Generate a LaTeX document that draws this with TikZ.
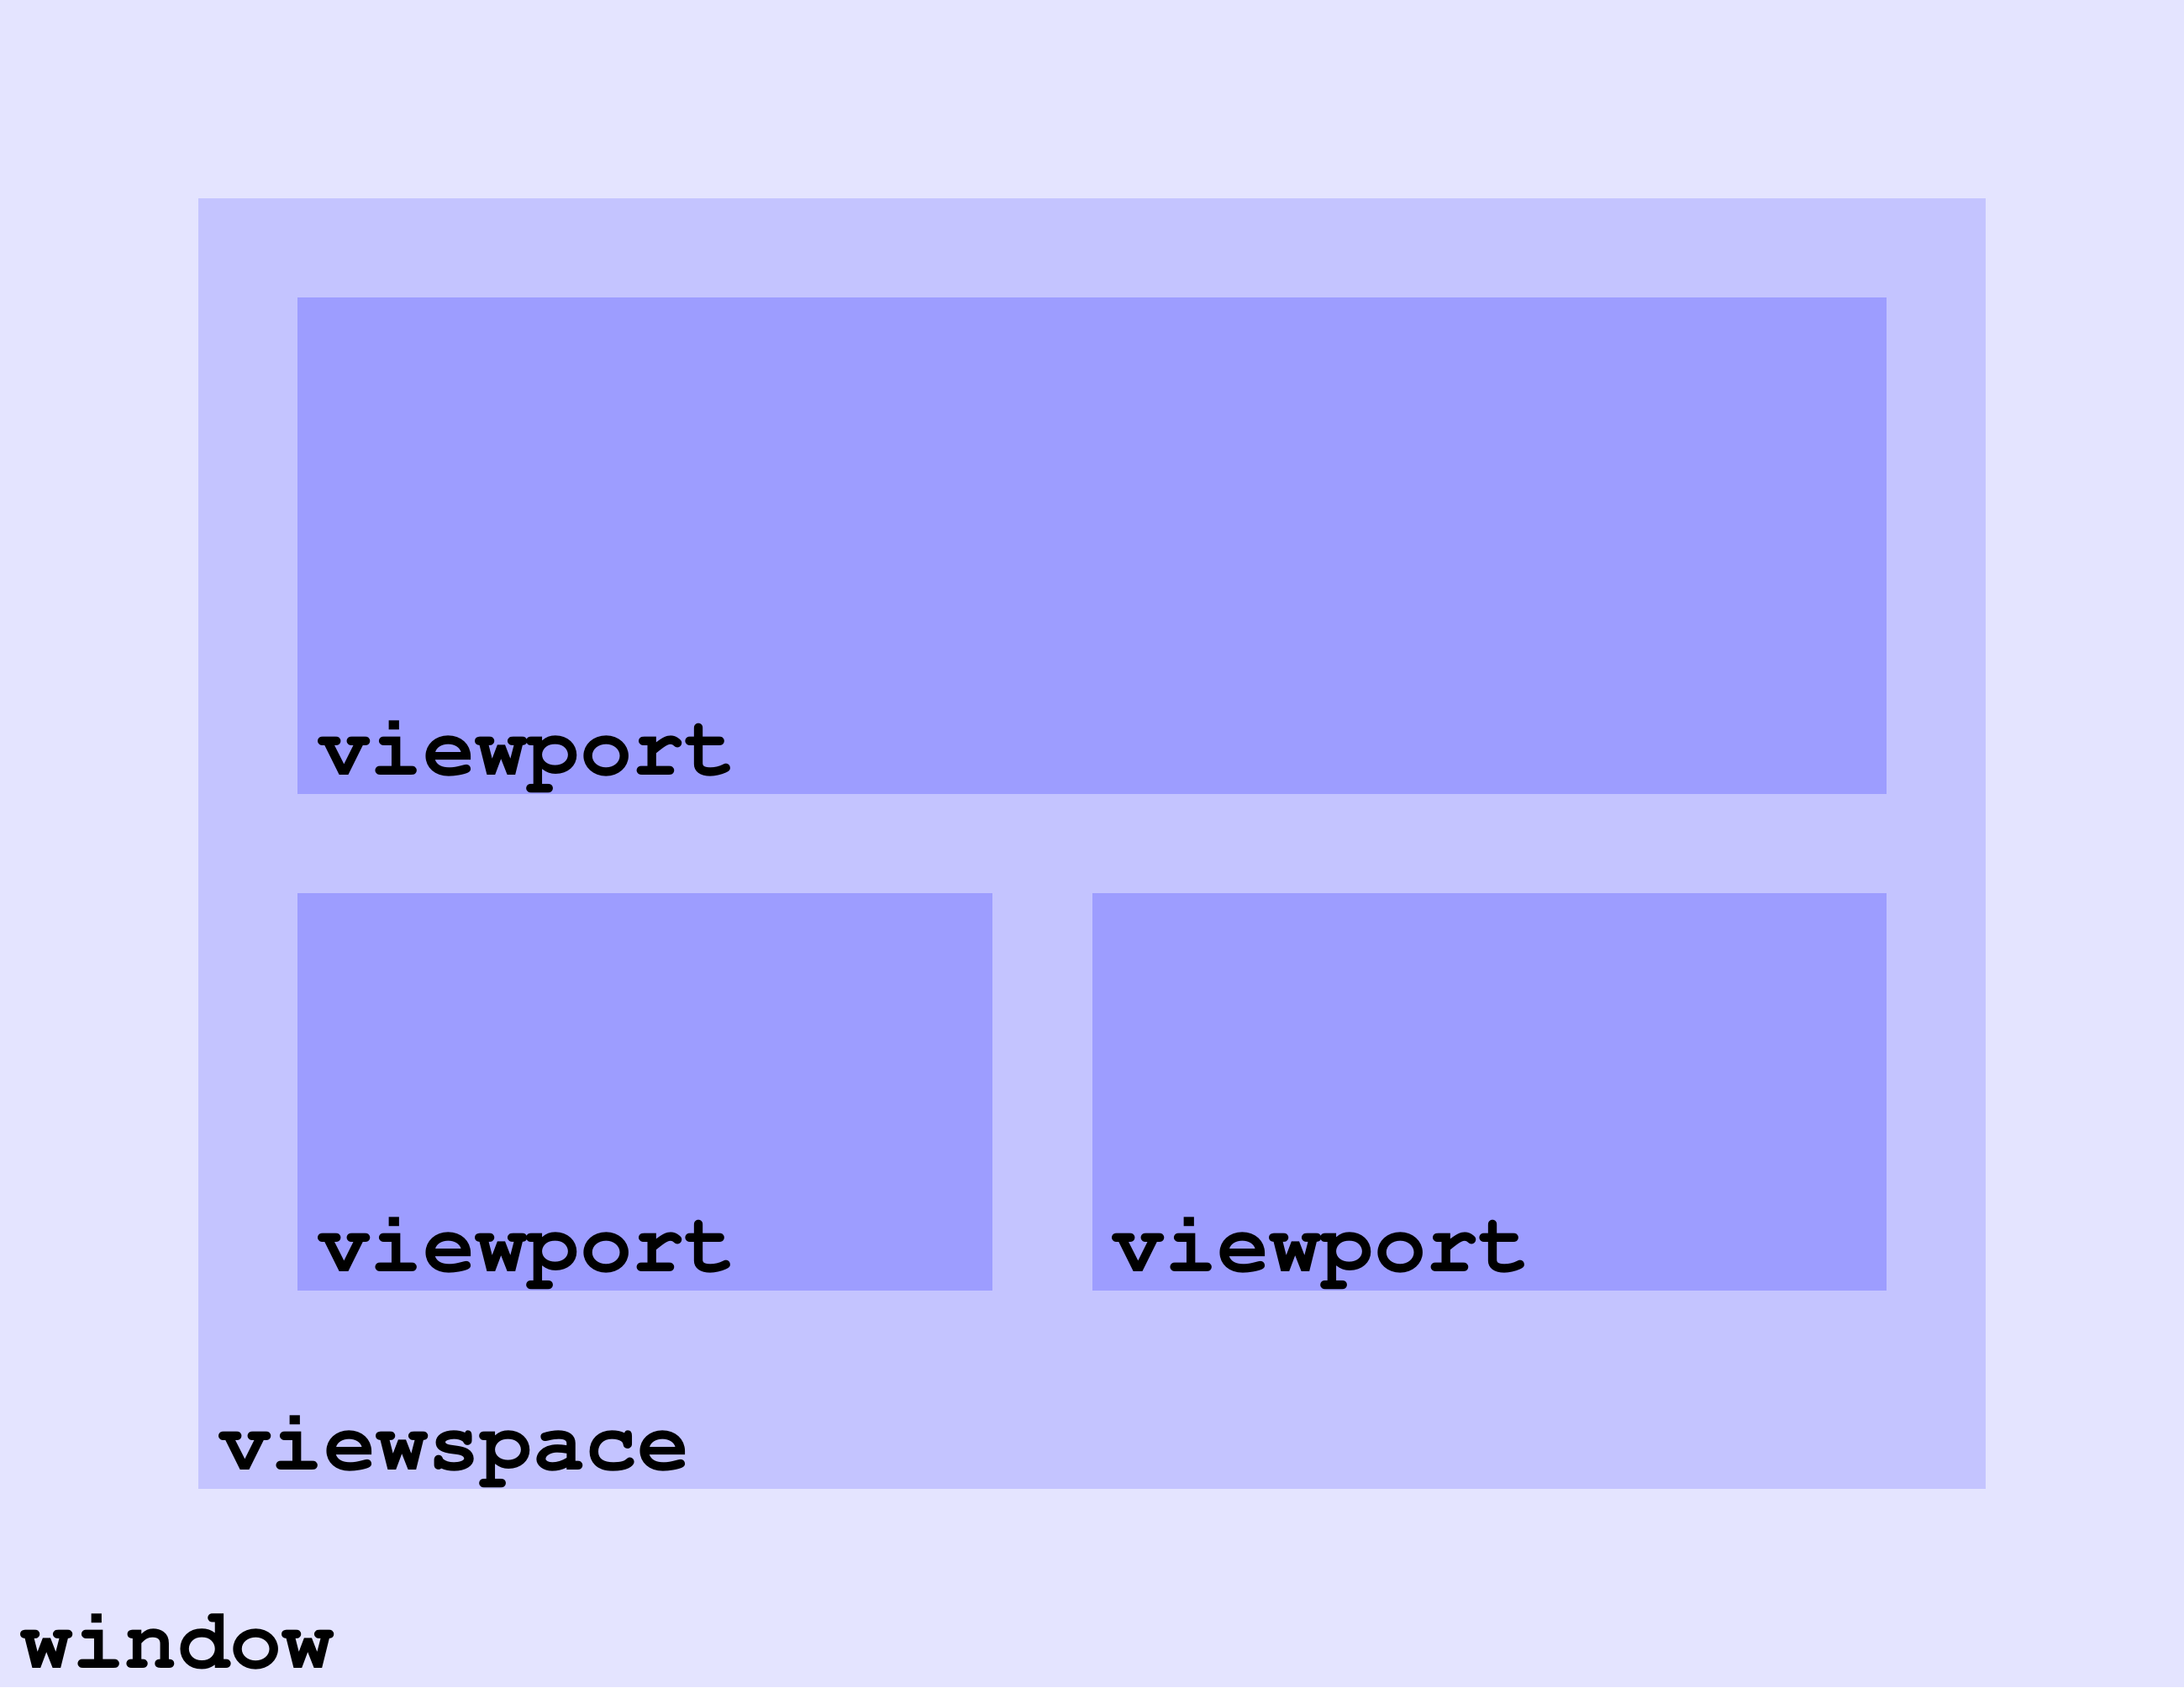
\documentclass[tikz,border=0pt]{standalone}
\usepackage[T1]{fontenc}
\definecolor{winbg}{HTML}{E4E4FF}
\definecolor{vsbg}{HTML}{C4C4FF}
\definecolor{vpbg}{HTML}{9D9DFF}
\begin{document}
\begin{tikzpicture}[x=0.5cm,y=-0.5cm,
  box/.style={draw=none, inner sep=0pt, outer sep=0pt, anchor=north west},
  lbl/.style={inner sep=0pt, outer sep=0pt, anchor=base west,
    font=\fontfamily{pcr}\fontseries{b}\fontsize{25}{30}\selectfont, text=black}]
\fill[winbg] (0,0) rectangle (44,34);
\useasboundingbox (0,0) rectangle (44,34);
\node[box, fill=vsbg, minimum width=18cm, minimum height=13cm] (viewspace) at (4,4) {};
\node[box, fill=vpbg, minimum width=16cm, minimum height=5cm] (vptop) at (6,6) {};
\node[box, fill=vpbg, minimum width=7cm, minimum height=4cm] (vpleft) at (6,18) {};
\node[box, fill=vpbg, minimum width=8cm, minimum height=4cm] (vpright) at (22,18) {};
\node[lbl] (ltop) at (6.41,15.62) {viewport};
\node[lbl] (lleft) at (6.41,25.62) {viewport};
\node[lbl] (lright) at (22.41,25.62) {viewport};
\node[lbl] (lvs) at (4.41,29.62) {viewspace};
\node[lbl] (lwin) at (0.41,33.62) {window};
\end{tikzpicture}
\end{document}
